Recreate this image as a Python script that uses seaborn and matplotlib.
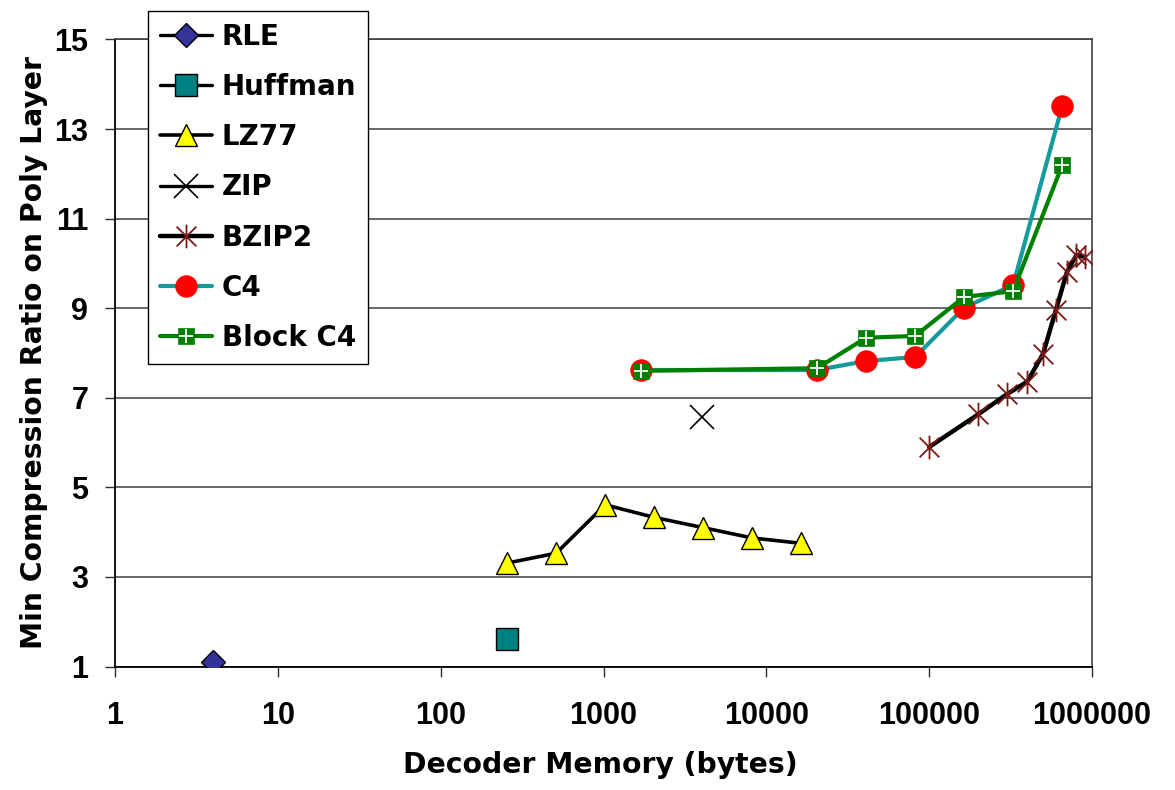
import matplotlib
matplotlib.use("Agg")
import matplotlib.pyplot as plt
import seaborn as sns
from matplotlib.path import Path
from matplotlib.ticker import NullLocator
from matplotlib.font_manager import FontProperties

# Decoder memory (bytes) vs. minimum compression ratio on the poly layer
rle_mem = [4]
rle_ratio = [1.10]

huffman_mem = [256]
huffman_ratio = [1.61]

lz77_mem = [256, 512, 1024, 2048, 4096, 8192, 16384]
lz77_ratio = [3.31, 3.53, 4.61, 4.33, 4.10, 3.87, 3.75]

zip_mem = [4000]
zip_ratio = [6.58]

bzip2_mem = [100000, 200000, 300000, 400000, 500000, 600000, 700000, 800000, 900000]
bzip2_ratio = [5.90, 6.63, 7.08, 7.36, 7.98, 8.96, 9.80, 10.18, 10.15]

c4_mem = [1700, 20480, 40960, 81920, 163840, 327680, 655360]
c4_ratio = [7.62, 7.62, 7.82, 7.91, 9.01, 9.52, 13.51]

block_c4_mem = [1700, 20480, 40960, 81920, 163840, 327680, 655360]
block_c4_ratio = [7.60, 7.66, 8.34, 8.38, 9.25, 9.38, 12.19]

x_ticks = [1, 10, 100, 1000, 10000, 100000, 1000000]
x_tick_labels = ["1", "10", "100", "1000", "10000", "100000", "1000000"]
y_ticks = [1, 3, 5, 7, 9, 11, 13, 15]
y_tick_labels = ["1", "3", "5", "7", "9", "11", "13", "15"]

sns.set_style("white")
plt.rcParams["font.family"] = ["DejaVu Sans"]
plt.rcParams["text.color"] = "black"
plt.rcParams["axes.labelcolor"] = "black"
plt.rcParams["xtick.color"] = "black"
plt.rcParams["ytick.color"] = "black"

# Asterisk marker: a diagonal cross with a vertical stroke
asterisk = Path(
    [(-1, -1), (1, 1), (-1, 1), (1, -1), (0, -1.2), (0, 1.2)],
    [Path.MOVETO, Path.LINETO, Path.MOVETO, Path.LINETO, Path.MOVETO, Path.LINETO],
)

fig = plt.figure(figsize=(11.75, 7.9), dpi=100)
ax = fig.add_axes([0.0979, 0.1563, 0.8315, 0.7938])
ax.set_xscale("log")


def draw(x, y, **kws):
    sns.lineplot(x=x, y=y, ax=ax, errorbar=None, legend=False, **kws)
    return ax.lines[-1]


h_rle = draw(rle_mem, rle_ratio, color="black", linewidth=2.4, marker="D",
             markersize=11.9, markerfacecolor="#333399", markeredgecolor="black",
             markeredgewidth=1.0, zorder=3)
h_huff = draw(huffman_mem, huffman_ratio, color="black", linewidth=2.4, marker="s",
              markersize=15.5, markerfacecolor="#008080", markeredgecolor="black",
              markeredgewidth=1.0, zorder=3)
h_lz77 = draw(lz77_mem, lz77_ratio, color="black", linewidth=2.6, marker="^",
              markersize=16.5, markerfacecolor="#ffff00", markeredgecolor="black",
              markeredgewidth=1.0, zorder=3)
h_zip = draw(zip_mem, zip_ratio, color="black", linewidth=2.4, marker="x",
             markersize=17, markerfacecolor="black", markeredgecolor="black",
             markeredgewidth=1.2, zorder=3)
h_bzip2 = draw(bzip2_mem, bzip2_ratio, color="black", linewidth=3.2, marker=asterisk,
               markersize=17, markerfacecolor="none", markeredgecolor="#7a1818",
               markeredgewidth=1.3, zorder=3)
h_c4 = draw(c4_mem, c4_ratio, color="#149b9b", linewidth=3.0, marker="o",
            markersize=15.6, markerfacecolor="#ff0000", markeredgecolor="#ff0000",
            markeredgewidth=0.5, zorder=4)
h_bc4 = draw(block_c4_mem, block_c4_ratio, color="#008000", linewidth=3.0, marker="s",
             markersize=11.5, markerfacecolor="#008000", markeredgecolor="#008000",
             markeredgewidth=0.5, zorder=5)
h_bc4_plus = draw(block_c4_mem, block_c4_ratio, color="white", linestyle="none",
                  marker="+", markersize=10.5, markerfacecolor="white",
                  markeredgecolor="white", markeredgewidth=1.3, zorder=6)

# Axes limits and ticks
ax.set_xlim(1, 1000000)
ax.set_ylim(1, 15)
tick_font = dict(fontfamily="Liberation Sans", fontweight="bold", fontsize=22,
                 color="black")
ax.set_xticks(x_ticks, labels=x_tick_labels, **tick_font)
ax.set_yticks(y_ticks, labels=y_tick_labels, **tick_font)
ax.xaxis.set_minor_locator(NullLocator())
ax.tick_params(axis="x", which="major", direction="out", length=7.2, width=1.0,
               color="#303030", pad=17.5, bottom=True)
ax.tick_params(axis="y", which="major", direction="out", length=7.2, width=1.0,
               color="#303030", pad=12, left=True)

# Horizontal gridlines
ax.set_axisbelow(True)
ax.yaxis.grid(True, color="#404040", linewidth=1.1)
ax.xaxis.grid(False)

for side in ["left", "bottom"]:
    ax.spines[side].set_color("black")
    ax.spines[side].set_linewidth(1.3)
for side in ["right", "top"]:
    ax.spines[side].set_color("#404040")
    ax.spines[side].set_linewidth(1.2)

label_font = dict(fontfamily="DejaVu Sans", fontweight="bold", fontsize=20.3,
                  color="black")
ax.set_xlabel("Decoder Memory (bytes)", **label_font)
ax.set_ylabel("Min Compression Ratio on Poly Layer", **label_font)
ax.xaxis.set_label_coords(0.497, -0.135)
ax.yaxis.set_label_coords(-0.069, 0.5)

handles = [h_rle, h_huff, h_lz77, h_zip, h_bzip2, h_c4, (h_bc4, h_bc4_plus)]
labels = ["RLE", "Huffman", "LZ77", "ZIP", "BZIP2", "C4", "Block C4"]
leg = ax.legend(
    handles, labels, loc="upper left",
    bbox_to_anchor=(148 / 1175, 1 - 11 / 790), bbox_transform=fig.transFigure,
    frameon=True, fancybox=False, shadow=False, edgecolor="black", framealpha=1,
    facecolor="white", borderaxespad=0, borderpad=0.42, handlelength=1.9,
    handletextpad=0.33, labelspacing=0.8, numpoints=1,
    prop=FontProperties(family="DejaVu Sans", weight="bold", size=20),
)
leg.get_frame().set_linewidth(1.0)
leg.set_zorder(10)
for txt in leg.get_texts():
    txt.set_color("black")

fig.savefig("out.png", dpi=100)
